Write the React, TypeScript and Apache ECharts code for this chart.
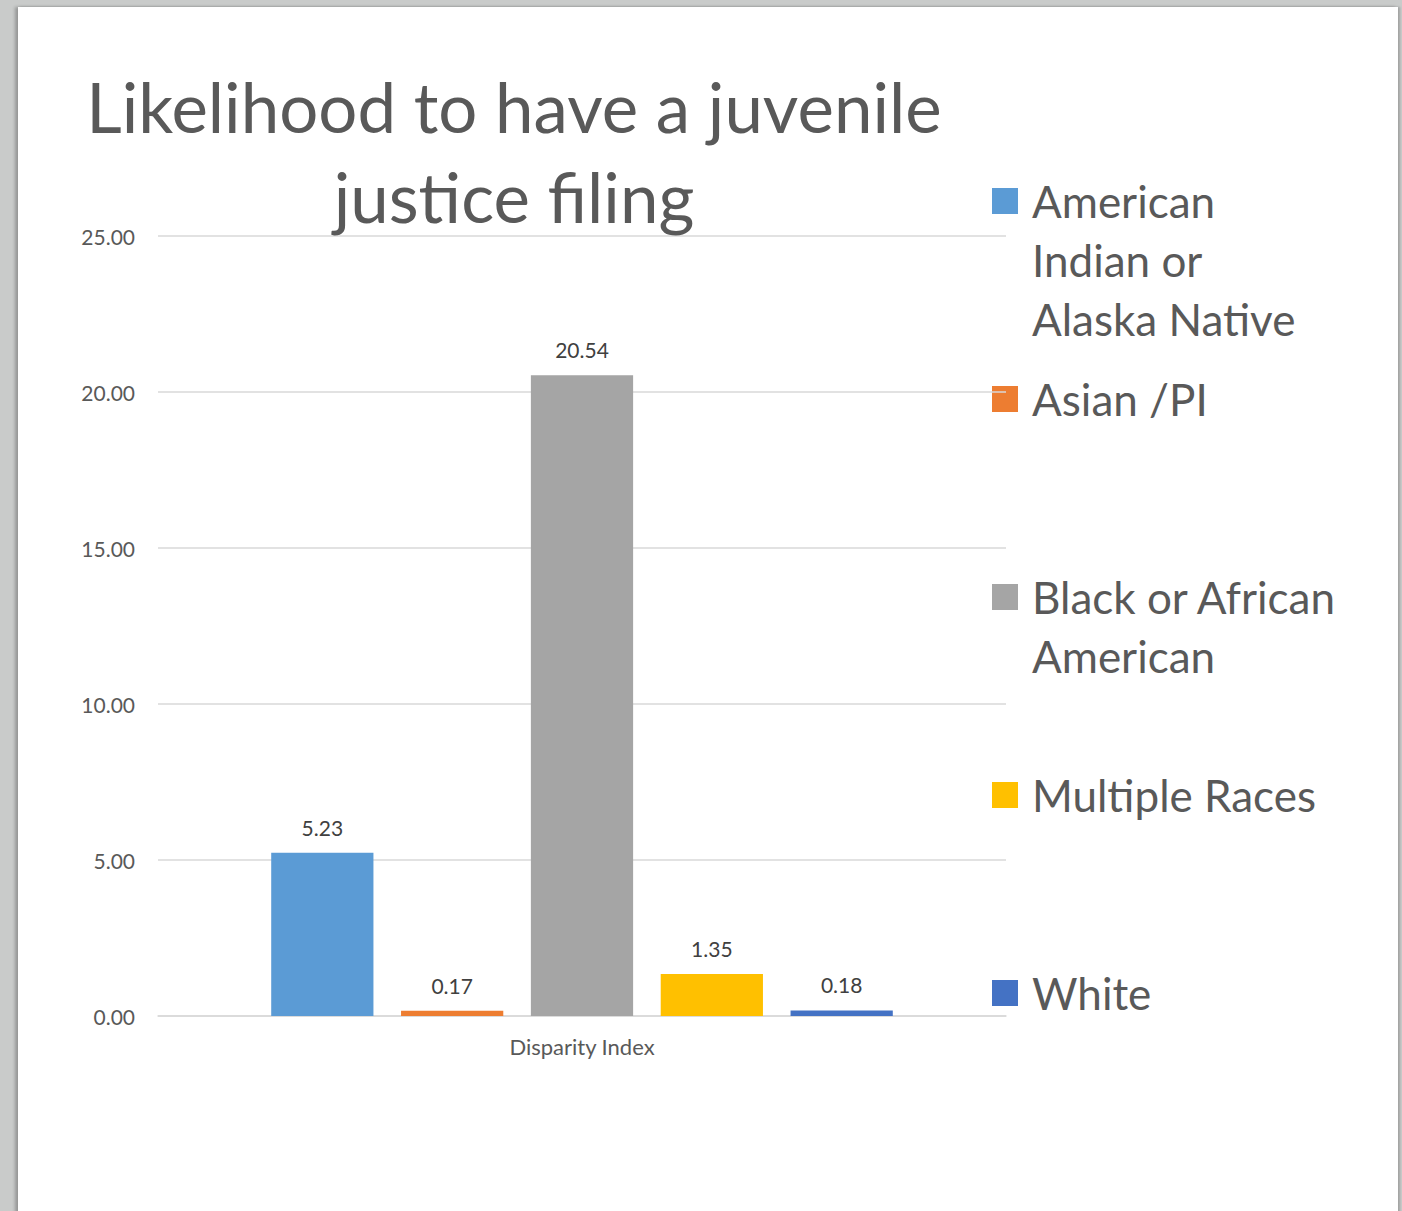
import React, { useEffect, useRef } from "react";
import * as echarts from "echarts";

const categories = ["Disparity Index"];
const seriesNames = ["American Indian or Alaska Native", "Asian /PI", "Black or African American", "Multiple Races", "White"];
const legendLabels = ["American\nIndian or\nAlaska Native", "Asian /PI", "Black or African\nAmerican", "Multiple Races", "White"];
const seriesValues = [5.23, 0.17, 20.54, 1.35, 0.18];
const seriesColors = ["#5B9BD5", "#ED7D31", "#A5A5A5", "#FFC000", "#4472C4"];
const titleText = "Likelihood to have a juvenile\njustice filing";

const FONT = "Lato, 'Open Sans', sans-serif";

export default function App() {
  const ref = useRef<HTMLDivElement>(null);
  useEffect(() => {
    if (!ref.current) return;
    const chart = echarts.init(ref.current, null, { renderer: "svg" });
    const legendGraphics: any[] = [];
    seriesNames.forEach((_, i) => {
      const cy = 201 + i * 198;
      legendGraphics.push({
        type: "rect",
        left: 992,
        top: cy - 13,
        shape: { width: 26, height: 26 },
        style: { fill: seriesColors[i] },
      });
      legendGraphics.push({
        type: "text",
        left: 1032,
        top: cy - 30,
        style: {
          text: legendLabels[i],
          font: `44px ${FONT}`,
          fill: "#595959",
          lineHeight: 59,
        },
      });
    });
    chart.setOption({
      animation: false,
      title: {
        text: titleText,
        left: 509,
        textAlign: "center",
        top: 56,
        textStyle: {
          fontFamily: FONT,
          fontSize: 69,
          fontWeight: "normal",
          color: "#595959",
          lineHeight: 90,
        },
      },
      grid: { left: 158, right: 396, top: 236, bottom: 195, containLabel: false },
      xAxis: {
        type: "category",
        data: categories,
        axisLine: { lineStyle: { color: "#D9D9D9", width: 1.5 } },
        axisTick: { show: false },
        axisLabel: { fontFamily: FONT, fontSize: 22, color: "#595959", margin: 19 },
      },
      yAxis: {
        type: "value",
        min: 0,
        max: 25,
        interval: 5,
        axisLine: { show: false },
        axisTick: { show: false },
        splitLine: { lineStyle: { color: "#D9D9D9", width: 1.5 } },
        axisLabel: {
          fontFamily: FONT,
          fontSize: 21,
          color: "#595959",
          margin: 23,
          formatter: (v: number) => v.toFixed(2),
        },
      },
      series: seriesNames.map((name, i) => ({
        name,
        type: "bar",
        data: [seriesValues[i]],
        barGap: "27%",
        barCategoryGap: "26.7%",
        itemStyle: { color: seriesColors[i] },
        label: {
          show: true,
          position: "top",
          distance: 15,
          fontFamily: FONT,
          fontSize: 21,
          color: "#404040",
          formatter: (p: any) => Number(p.value).toFixed(2),
        },
      })),
      graphic: legendGraphics,
    });
    return () => chart.dispose();
  }, []);

  return (
    <div style={{ position: "fixed", left: 0, top: 0, width: 1402, height: 1211, background: "#C9CBCA", overflow: "hidden" }}>
      <div
        style={{
          position: "absolute",
          left: 18,
          top: 7,
          width: 1380,
          height: 1210,
          background: "#FFFFFF",
          boxShadow: "-3px 0 3px rgba(0,0,0,0.25), 2px 0 2px rgba(0,0,0,0.2)",
        }}
      />
      <div ref={ref} style={{ position: "absolute", left: 0, top: 0, width: 1402, height: 1211 }} />
    </div>
  );
}
